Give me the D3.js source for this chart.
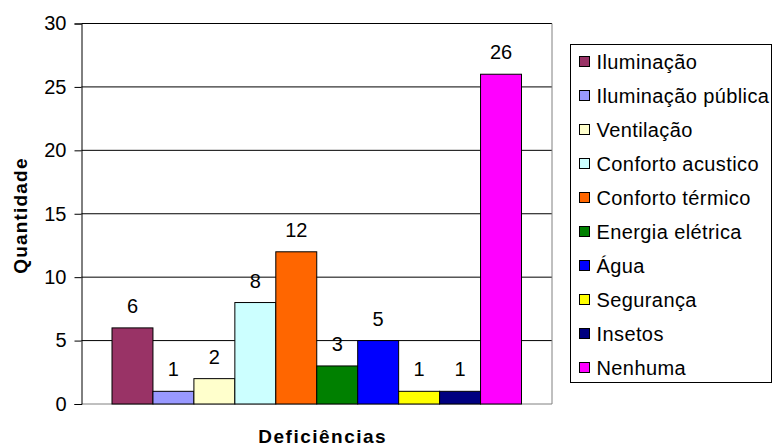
<!DOCTYPE html>
<html>
<head>
<meta charset="utf-8">
<script src="https://cdn.jsdelivr.net/npm/d3@7"></script>
<style>
  html, body { margin: 0; padding: 0; background: #fff; }
  svg { display: block; font-family: "Liberation Sans", Arial, sans-serif; }
</style>
</head>
<body>
<div id="chart"></div>
<script>
const categories = ['Iluminação', 'Iluminação pública', 'Ventilação', 'Conforto acustico',
  'Conforto térmico', 'Energia elétrica', 'Água', 'Segurança', 'Insetos', 'Nenhuma'];
const values = [6, 1, 2, 8, 12, 3, 5, 1, 1, 26];
const colors = ['#993366', '#9999FF', '#FFFFCC', '#CCFFFF', '#FF6600',
  '#008000', '#0000FF', '#FFFF00', '#000080', '#FF00FF'];
const yTicks = [0, 5, 10, 15, 20, 25, 30];

(function initChart() {
  const width = 773, height = 448;
  const margin = { top: 23.5, left: 81.5 };
  const innerWidth = 552 - margin.left;
  const innerHeight = 404 - margin.top;

  const svg = d3.select('#chart').append('svg')
    .attr('width', width).attr('height', height);

  const g = svg.append('g').attr('transform', `translate(${margin.left},${margin.top})`);

  const x = d3.scaleBand()
    .domain(categories)
    .range([0, innerWidth])
    .paddingInner(0)
    .paddingOuter(0.745);

  const y = d3.scaleLinear().domain([0, 30]).range([innerHeight, 0]);

  // gridlines
  g.append('g').selectAll('line').data(yTicks.filter(d => d > 0)).join('line')
    .attr('x1', 0).attr('x2', innerWidth)
    .attr('y1', d => y(d)).attr('y2', d => y(d))
    .attr('stroke', '#000').attr('stroke-width', 1);

  // plot border (right)
  g.append('line')
    .attr('x1', innerWidth).attr('x2', innerWidth).attr('y1', 0).attr('y2', innerHeight)
    .attr('stroke', '#808080');

  // x axis line
  g.append('line')
    .attr('x1', 0).attr('x2', innerWidth).attr('y1', innerHeight).attr('y2', innerHeight)
    .attr('stroke', '#808080');

  // y axis
  const gy = g.append('g')
    .call(d3.axisLeft(y).tickValues(yTicks).tickSize(7).tickPadding(8));
  gy.select('.domain').attr('stroke', '#000');
  gy.selectAll('.tick line').attr('stroke', '#000');
  gy.selectAll('text').attr('font-size', 20).attr('fill', '#000')
    .attr('font-family', '"Liberation Sans", Arial, sans-serif');

  // bars
  g.append('g').selectAll('rect').data(values).join('rect')
    .attr('x', (d, i) => x(categories[i]))
    .attr('y', d => y(d))
    .attr('width', x.bandwidth())
    .attr('height', d => y(0) - y(d))
    .attr('fill', (d, i) => colors[i])
    .attr('stroke', '#000').attr('stroke-width', 1);

  // value labels
  g.append('g').selectAll('text').data(values).join('text')
    .attr('x', (d, i) => x(categories[i]) + x.bandwidth() / 2)
    .attr('y', d => y(d) - 15)
    .attr('text-anchor', 'middle')
    .attr('font-size', 20)
    .text(d => d);

  // axis titles (Excel draws these with extra spacing)
  svg.append('text')
    .attr('transform', `translate(27,${215 + 0.6}) rotate(-90)`)
    .attr('text-anchor', 'middle')
    .attr('font-size', 19).attr('font-weight', 'bold')
    .attr('letter-spacing', 1.2)
    .text('Quantidade');

  svg.append('text')
    .attr('x', 322 + 0.75).attr('y', 443)
    .attr('text-anchor', 'middle')
    .attr('font-size', 19).attr('font-weight', 'bold')
    .attr('letter-spacing', 1.5)
    .text('Deficiências');

  // legend
  const lg = svg.append('g').attr('transform', 'translate(570.5,44.5)');
  lg.append('rect')
    .attr('width', 201).attr('height', 338)
    .attr('fill', '#fff').attr('stroke', '#000');

  const item = lg.selectAll('g.item').data(categories).join('g')
    .attr('class', 'item')
    .attr('transform', (d, i) => `translate(0,${17 + i * 34})`);
  item.append('rect')
    .attr('x', 9).attr('y', -5)
    .attr('width', 10).attr('height', 10)
    .attr('fill', (d, i) => colors[i])
    .attr('stroke', '#000');
  item.append('text')
    .attr('x', 26).attr('y', 7)
    .attr('font-size', 20)
    .attr('letter-spacing', 0.4)
    .text(d => d);
})();
</script>
</body>
</html>
